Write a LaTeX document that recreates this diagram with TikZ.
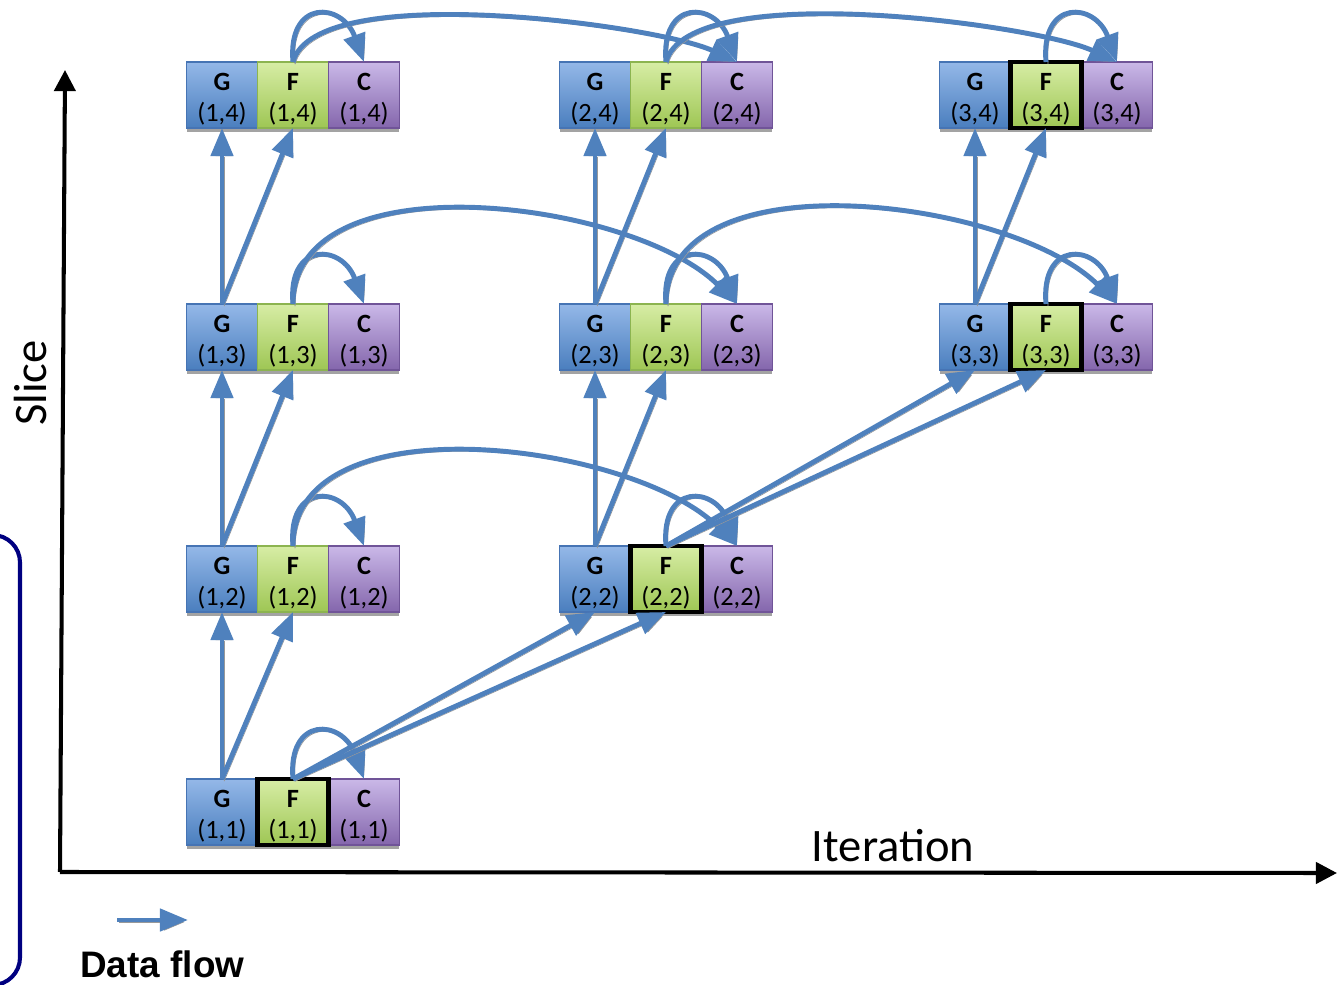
\documentclass[tikz,border=0pt]{standalone}
\usepackage{fontspec}
\setmainfont{Carlito}
\newfontfamily\legendfont{Liberation Sans}
\usepackage{tikz}
\usetikzlibrary{positioning, arrows.meta, shadows}

\definecolor{flowblue}{RGB}{79,129,189}
\definecolor{gtop}{RGB}{148,184,232}
\definecolor{gbot}{RGB}{74,126,190}
\definecolor{gedge}{RGB}{70,116,180}
\definecolor{ftop}{RGB}{215,237,165}
\definecolor{fbot}{RGB}{158,198,84}
\definecolor{fedge}{RGB}{140,180,80}
\definecolor{ctop}{RGB}{202,184,232}
\definecolor{cbot}{RGB}{132,102,172}
\definecolor{cedge}{RGB}{112,84,152}
\definecolor{framenavy}{RGB}{0,0,128}

\begin{document}
\begin{tikzpicture}[
    x=0.02cm, y=0.02cm,
    >={Triangle[length=16pt, width=12.5pt]},
    cell/.style={draw, minimum width=1.42cm, minimum height=1.32cm, inner sep=0pt, outer sep=0pt,
        align=center, font=\fontsize{15}{17.5}\selectfont, line width=0.6pt,
        text height=33pt, text depth=2.6pt,
        drop shadow={shadow xshift=0pt, shadow yshift=-2.5pt, fill=black!45, opacity=0.8}},
    gcell/.style={cell, draw=gedge, top color=gtop, bottom color=gbot},
    fcell/.style={cell, draw=fedge, top color=ftop, bottom color=fbot},
    ccell/.style={cell, draw=cedge, top color=ctop, bottom color=cbot},
    hilite/.style={draw=black, line width=2.3pt},
    flow/.style={->, draw=flowblue, line width=2.8pt,
        preaction={draw=black!40, transform canvas={shift={(1.2pt,-1.2pt)}}}},
    axis/.style={-{Triangle[length=12pt, width=12pt]}, line width=2.3pt}
]
    \clip (0,0) rectangle (1337,984);

    % legend frame, mostly off to the left
    \draw[framenavy, line width=2.3pt, rounded corners=0.55cm] (-200,-1) rectangle (20,449);

    % axes
    \coordinate (origin) at (60,112);
    \coordinate (ytip) at (65,914);
    \coordinate (xtip) at (1337,111);
    \draw[axis] (origin) -- (ytip);
    \draw[axis] (origin) -- (xtip);
    \node[rotate=90, font=\fontsize{26.5}{30}\selectfont] (slice) at (30,601) {Slice};
    \node[font=\fontsize{26.5}{30}\selectfont] (iter) at (893,138) {Iteration};

    % G / F / C cells, (iteration, slice)
    \foreach \i/\j/\x/\y in {1/1/222/172, 1/2/222/405, 1/3/222/647, 1/4/222/889,
                             2/2/595/405, 2/3/595/647, 2/4/595/889,
                             3/3/975/647, 3/4/975/889} {
        \node[gcell] (g\i\j) at (\x,\y) {\textbf{G}\\(\i,\j)};
        \node[fcell, right=0pt of g\i\j] (f\i\j) {\textbf{F}\\(\i,\j)};
        \node[ccell, right=0pt of f\i\j] (c\i\j) {\textbf{C}\\(\i,\j)};
    }
    \foreach \n in {11,22,33,34}
        \draw[hilite] (f\n.south west) rectangle (f\n.north east);

    % G feeds the next slice
    \draw[flow] (g11.north) -- (g12.south);
    \draw[flow] (g11.north) -- (f12.south);
    \draw[flow] (g12.north) -- (g13.south);
    \draw[flow] (g12.north) -- (f13.south);
    \draw[flow] (g13.north) -- (g14.south);
    \draw[flow] (g13.north) -- (f14.south);
    \draw[flow] (g22.north) -- (g23.south);
    \draw[flow] (g22.north) -- (f23.south);
    \draw[flow] (g23.north) -- (g24.south);
    \draw[flow] (g23.north) -- (f24.south);
    \draw[flow] (g33.north) -- (g34.south);
    \draw[flow] (g33.north) -- (f34.south);

    % F -> C inside a cell
    \foreach \n in {11,12,13,14,22,23,24,33,34}
        \draw[flow] (f\n.north) to[out=95, in=110, looseness=2.3] (c\n.north);

    % F -> C of the next iteration
    \draw[flow] (f12.north) to[out=90, in=135, looseness=0.85] (c22.north);
    \draw[flow] (f13.north) to[out=90, in=135, looseness=0.85] (c23.north);
    \draw[flow] (f23.north) to[out=90, in=135, looseness=0.85] (c33.north);
    \draw[flow] (f14.north) to[out=75, in=155, looseness=0.5] (c24.north);
    \draw[flow] (f24.north) to[out=75, in=155, looseness=0.5] (c34.north);

    % F -> next iteration, one slice up
    \draw[flow] (f11.north) -- (g22.south);
    \draw[flow] (f11.north) -- (f22.south);
    \draw[flow] (f22.north) -- (g33.south);
    \draw[flow] (f22.north) -- (f33.south);

    % legend
    \coordinate (legfrom) at (117,64);
    \coordinate (legto) at (188,64);
    \draw[flow] (legfrom) -- (legto);
    \node[anchor=base west, inner sep=0pt, font=\legendfont\bfseries\fontsize{21}{24}\selectfont] (legtext) at (80,7) {Data flow};
\end{tikzpicture}
\end{document}
